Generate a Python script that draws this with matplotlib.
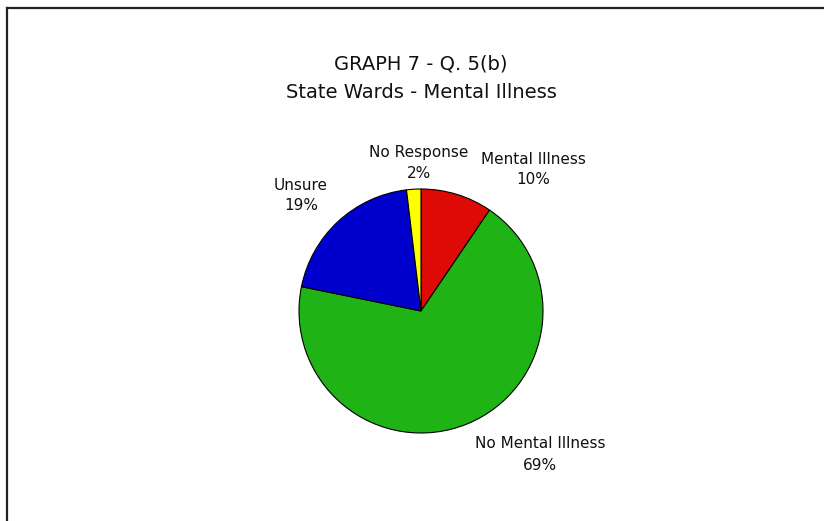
import matplotlib
matplotlib.use('Agg')
import matplotlib.pyplot as plt

# slice data (clockwise from 12 o'clock)
categories = ['Mental Illness', 'No Mental Illness', 'Unsure', 'No Response']
values = [9.5, 68.7, 19.9, 1.9]
pct_labels = ['10%', '69%', '19%', '2%']
colors = ['#DD0A06', '#1FB316', '#0000CC', '#FFFF00']

title_lines = ['GRAPH 7 - Q. 5(b)', 'State Wards - Mental Illness']

W, H = 824, 521
fig = plt.figure(figsize=(W / 100, H / 100), dpi=100)
ax = fig.add_axes([0, 0, 1, 1])
ax.set_xlim(0, W)
ax.set_ylim(H, 0)
ax.axis('off')

# pie drawn in its own axes so the angle direction stays normal
cx, cy, r = 421, 311, 122
pax = fig.add_axes([(cx - r) / W, 1 - (cy + r) / H, 2 * r / W, 2 * r / H])
pax.pie(values, colors=colors, startangle=90, counterclock=False,
        wedgeprops=dict(edgecolor='black', linewidth=0.8))
pax.set_xlim(-1, 1)
pax.set_ylim(-1, 1)
pax.axis('off')

# frame (only top and left edges visible)
ax.plot([7, W], [8, 8], color='#222222', lw=1.6)
ax.plot([7, 7], [8, H], color='#222222', lw=1.6)

ax.text(421, 64, title_lines[0], ha='center', va='center', fontsize=14,
        color='#111111')
ax.text(421, 93, title_lines[1], ha='center', va='center', fontsize=14,
        color='#111111')

label_pos = [(533, 159), (540, 444), (301, 185), (419, 152)]
for name, pct, (x, y) in zip(categories, pct_labels, label_pos):
    ax.text(x, y, name, ha='center', va='center', fontsize=11, color='#111111')
    ax.text(x, y + 21, pct, ha='center', va='center', fontsize=11, color='#111111')

fig.savefig('out.png', dpi=100, facecolor='white')
